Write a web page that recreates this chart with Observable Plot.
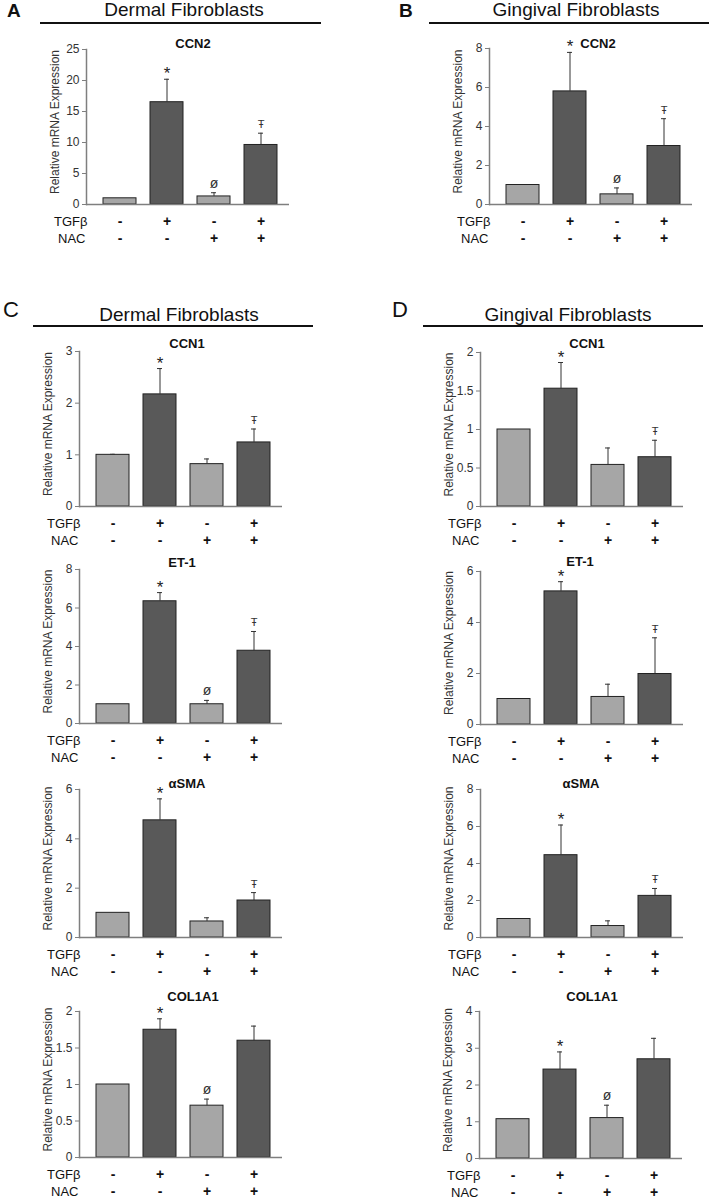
<!DOCTYPE html>
<html>
<head>
<meta charset="utf-8">
<script src="https://cdn.jsdelivr.net/npm/d3@7"></script>
<script src="https://cdn.jsdelivr.net/npm/@observablehq/plot@0.6"></script>
<style>
  html, body { margin: 0; padding: 0; background: #fff; }
  #fig { position: relative; width: 712px; height: 1199px; background: #fff;
         font-family: "Liberation Sans", Arial, Helvetica, sans-serif; color: #111; overflow: hidden; }
  .abs { position: absolute; }
  .hdr { position: absolute; font-size: 19px; line-height: 19px; white-space: nowrap; transform: translate(-50%, -50%); color: #111; }
  .rule { position: absolute; height: 1.5px; background: #111; }
  .letter { position: absolute; line-height: 1; transform: translate(0, -50%); color: #111; }
</style>
</head>
<body>
<div id="fig"></div>
<script>
// ---------- data ----------
const groups = ["Control", "TGFβ", "NAC", "TGFβ + NAC"];
const tgfSigns = ["-", "+", "-", "+"];
const nacSigns = ["-", "-", "+", "+"];

const panelGenes = ["CCN2", "CCN2", "CCN1", "ET-1", "αSMA", "COL1A1", "CCN1", "ET-1", "αSMA", "COL1A1"];
const panelCells = ["Dermal", "Gingival", "Dermal", "Dermal", "Dermal", "Dermal", "Gingival", "Gingival", "Gingival", "Gingival"];

const panelMeans = [
  [1.0, 16.5, 1.3, 9.6],
  [1.0, 5.8, 0.52, 3.0],
  [1.0, 2.17, 0.82, 1.24],
  [1.0, 6.35, 1.0, 3.78],
  [1.0, 4.75, 0.65, 1.5],
  [1.0, 1.75, 0.71, 1.6],
  [1.0, 1.53, 0.54, 0.64],
  [1.0, 5.22, 1.08, 1.98],
  [1.0, 4.45, 0.62, 2.25],
  [1.07, 2.42, 1.1, 2.7]
];
const panelErrors = [
  [0, 3.7, 0.6, 1.9],
  [0, 2.0, 0.33, 1.4],
  [0.01, 0.5, 0.1, 0.26],
  [0, 0.45, 0.2, 1.0],
  [0, 0.87, 0.15, 0.32],
  [0, 0.15, 0.09, 0.2],
  [0, 0.34, 0.22, 0.22],
  [0, 0.38, 0.5, 1.42],
  [0, 1.63, 0.28, 0.4],
  [0, 0.48, 0.35, 0.57]
];
const panelSymbols = [
  ["", "*", "ø", "Ŧ"],
  ["", "*", "ø", "Ŧ"],
  ["", "*", "", "Ŧ"],
  ["", "*", "ø", "Ŧ"],
  ["", "*", "", "Ŧ"],
  ["", "*", "ø", ""],
  ["", "*", "", "Ŧ"],
  ["", "*", "", "Ŧ"],
  ["", "*", "", "Ŧ"],
  ["", "*", "ø", ""]
];
const panelTicks = [
  [0, 5, 10, 15, 20, 25],
  [0, 2, 4, 6, 8],
  [0, 1, 2, 3],
  [0, 2, 4, 6, 8],
  [0, 2, 4, 6],
  [0, 0.5, 1, 1.5, 2],
  [0, 0.5, 1, 1.5, 2],
  [0, 2, 4, 6],
  [0, 2, 4, 6, 8],
  [0, 1, 2, 3, 4]
];
const yLabel = "Relative mRNA Expression";

// ---------- layout (page pixels) ----------
const layout = [
  {axisX: 86,  top: 49,   zero: 204,  titleDx: 5,  titleDy: -6},
  {axisX: 489, top: 48,   zero: 204,  titleDx: 7,  titleDy: -5},
  {axisX: 79,  top: 351,  zero: 506,  titleDx: 6,  titleDy: -8},
  {axisX: 79,  top: 569,  zero: 723,  titleDx: 1,  titleDy: -7},
  {axisX: 79,  top: 789,  zero: 937,  titleDx: 6,  titleDy: -6},
  {axisX: 79,  top: 1011, zero: 1157, titleDx: 12, titleDy: -15},
  {axisX: 480, top: 352,  zero: 506,  titleDx: 5,  titleDy: -9},
  {axisX: 480, top: 571,  zero: 724,  titleDx: -2, titleDy: -10},
  {axisX: 480, top: 789,  zero: 937,  titleDx: -1, titleDy: -6},
  {axisX: 479, top: 1011, zero: 1158, titleDx: 11, titleDy: -15}
];
const headers = [
  {text: "Dermal Fibroblasts",   cx: 184, cy: 9,   x1: 40,  x2: 321, ly: 22, letter: "A", lx: 7,   bold: true},
  {text: "Gingival Fibroblasts", cx: 576, cy: 9,   x1: 429, x2: 709, ly: 22, letter: "B", lx: 399, bold: true},
  {text: "Dermal Fibroblasts",   cx: 179, cy: 314, x1: 33,  x2: 313, ly: 325, letter: "C", lx: 3,   bold: false},
  {text: "Gingival Fibroblasts", cx: 568, cy: 314, x1: 423, x2: 703, ly: 325, letter: "D", lx: 392, bold: false}
];

const LIGHT = "#a6a6a6", DARK = "#595959", AXIS = "#7f7f7f", INK = "#222";
const FONT = "'Liberation Sans', Arial, Helvetica, sans-serif";
const ML = 80, MR = 6, MT = 34, MB = 44, FRAMEW = 203;

const fig = document.getElementById("fig");

headers.forEach(h => {
  const t = document.createElement("div");
  t.className = "hdr"; t.textContent = h.text;
  t.style.left = h.cx + "px"; t.style.top = h.cy + "px";
  fig.appendChild(t);
  const r = document.createElement("div");
  r.className = "rule";
  r.style.left = h.x1 + "px"; r.style.width = (h.x2 - h.x1) + "px"; r.style.top = h.ly + "px";
  fig.appendChild(r);
  const L = document.createElement("div");
  L.className = "letter"; L.textContent = h.letter;
  L.style.left = h.lx + "px"; L.style.top = (h.bold ? 10 : 310) + "px";
  L.style.fontSize = h.bold ? "19px" : "22px";
  L.style.fontWeight = h.bold ? "bold" : "normal";
  fig.appendChild(L);
});

panelGenes.forEach((gene, p) => {
  const g = layout[p];
  const rows = groups.map((grp, i) => ({
    group: grp, tgf: tgfSigns[i], nac: nacSigns[i],
    mean: panelMeans[p][i], err: panelErrors[p][i], sym: panelSymbols[p][i]
  }));
  const withErr = rows.filter(d => d.err > 0);
  const ticks = panelTicks[p];
  const yMax = ticks[ticks.length - 1];
  const width = ML + FRAMEW + MR;
  const height = MT + (g.zero - g.top) + MB;

  const chart = Plot.plot({
    width, height,
    marginLeft: ML, marginRight: MR, marginTop: MT, marginBottom: MB,
    style: {background: "transparent", overflow: "visible", fontFamily: FONT},
    x: {domain: groups, range: [ML + 17, ML + 191], paddingInner: 0.3, paddingOuter: 0, axis: null},
    y: {domain: [0, yMax], axis: null},
    color: {domain: ["-", "+"], range: [LIGHT, DARK]},
    marks: [
      Plot.barY(rows, {x: "group", y: "mean", fill: "tgf", stroke: INK, strokeWidth: 1}),
      Plot.ruleX(withErr, {x: "group", y1: "mean", y2: d => d.mean + d.err, stroke: "#333", strokeWidth: 1}),
      Plot.tickY(withErr, {x: "group", y: d => d.mean + d.err, insetLeft: 14, insetRight: 14, stroke: "#333", strokeWidth: 1}),
      Plot.ruleY([0], {stroke: AXIS, strokeWidth: 1.5}),
      Plot.frame({anchor: "left", stroke: AXIS, strokeWidth: 1.5}),
      Plot.axisY({ticks, tickSize: 4, tickPadding: 3, tickFormat: d => String(d), label: null,
                  fontSize: 12, stroke: AXIS, fill: "#333"}),
      Plot.text([yLabel], {frameAnchor: "left", rotate: -90, textAnchor: "middle", lineAnchor: "middle",
                 dx: -31, dy: -5, fontSize: 12, fill: "#333"}),
      Plot.text([gene], {frameAnchor: "top", lineAnchor: "middle", textAnchor: "middle",
                 dx: g.titleDx, dy: g.titleDy, fontSize: 13, fontWeight: "bold", fill: "#111"}),
      Plot.text(rows.filter(d => d.sym === "*"), {x: "group", y: d => d.mean + d.err, text: "sym",
                 lineAnchor: "bottom", dy: 0, fontSize: 17, fill: "#222"}),
      Plot.text(rows.filter(d => d.sym === "ø"), {x: "group", y: d => d.mean + d.err, text: "sym",
                 lineAnchor: "bottom", dy: -5, fontSize: 14, fill: "#333"}),
      Plot.text(rows.filter(d => d.sym === "Ŧ"), {x: "group", y: d => d.mean + d.err, text: "sym",
                 lineAnchor: "bottom", dy: -5, fontSize: 11, fill: "#333"}),
      Plot.text(["TGFβ"], {frameAnchor: "bottom-left", textAnchor: "end", lineAnchor: "middle",
                 dx: 1, dy: 17, fontSize: 13, fill: "#111"}),
      Plot.text(["NAC"], {frameAnchor: "bottom-left", textAnchor: "end", lineAnchor: "middle",
                 dx: -1, dy: 34, fontSize: 13, fill: "#111"}),
      Plot.text(rows, {x: "group", text: "tgf", frameAnchor: "bottom", lineAnchor: "middle",
                 dy: 17, fontSize: 14, fontWeight: "bold", fill: "#111"}),
      Plot.text(rows, {x: "group", text: "nac", frameAnchor: "bottom", lineAnchor: "middle",
                 dy: 34, fontSize: 14, fontWeight: "bold", fill: "#111"})
    ]
  });
  chart.classList.add("abs");
  chart.style.left = (g.axisX - ML) + "px";
  chart.style.top = (g.top - MT) + "px";
  chart.setAttribute("aria-label", `${panelCells[p]} fibroblasts ${gene}`);
  fig.appendChild(chart);
});
</script>
</body>
</html>
